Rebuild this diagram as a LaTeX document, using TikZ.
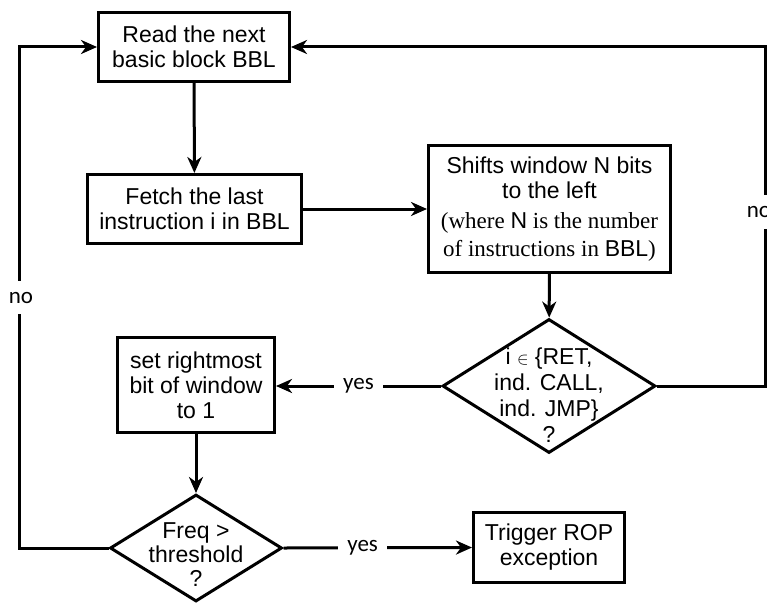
\documentclass[tikz,border=0pt]{standalone}
\usepackage{fontspec}
\setmainfont{Liberation Sans}
\newfontfamily\timesfont{Liberation Serif}
\newfontfamily\labelfont{Carlito}
\usetikzlibrary{arrows.meta,shapes.geometric}

\begin{document}
\begin{tikzpicture}[x=1pt,y=-1pt,
  every node/.style={font=\fontsize{23}{25}\selectfont},
  box/.style={draw, line width=3pt, align=center, inner sep=0pt},
  decision/.style={draw, diamond, line width=3pt, inner sep=0pt},
  flow/.style={line width=3pt, -{Stealth[length=16pt,width=14pt,inset=5pt]}},
  answer/.style={font=\labelfont\fontsize{23}{25}\selectfont, fill=white,
                 inner xsep=9pt, inner ysep=11pt}
]
\useasboundingbox (0,0) rectangle (767,602);

% process boxes
\node[box, minimum width=191, minimum height=69] (read) at (194,47)
  {Read the next\\basic block BBL};
\node[box, minimum width=214, minimum height=69] (fetch) at (194.5,209)
  {Fetch the last\\instruction i in BBL};
\node[box, minimum width=242, minimum height=127] (shift) at (549.5,209)
  {Shifts window N bits\\to the left\\[5pt]
   {\timesfont (where {\rmfamily N} is the number}\\[3pt]
   {\timesfont of instructions in {\rmfamily BBL})}};
\node[box, minimum width=157, minimum height=95] (setbit) at (196,385)
  {set rightmost\\bit of window\\to 1};
\node[box, minimum width=151, minimum height=70] (trigger) at (549,547.5)
  {Trigger ROP\\exception};

% decisions
\node[decision, minimum width=213, minimum height=134] (isret) at (549,386) {};
\node[align=center, font=\fontsize{23}{26}\selectfont] (isrettext) at (549,395)
  {i {\fontsize{17}{17}\selectfont$\in$} \{RET,\\ind. CALL,\\ind. JMP\}\\?};
\node[decision, minimum width=172, minimum height=107] (freq) at (196,548) {};
\node[align=center, font=\fontsize{23}{24}\selectfont] (freqtext) at (196,555)
  {Freq >\\threshold\\?};

% loop corners
\coordinate (lc1) at (19,548);
\coordinate (lc2) at (19,47);
\coordinate (rc1) at (765,386);
\coordinate (rc2) at (765,47);

% connectors
\draw[flow] (read) -- (fetch);
\draw[flow] (fetch) -- (shift);
\draw[flow] (shift) -- (isret);
\draw[flow] (isret.west) -- node[answer, pos=0.5]{yes} (isret.west -| setbit.east);
\draw[flow] (setbit) -- (freq);
\draw[flow] (freq.east) -- node[answer, pos=0.42]{yes} (trigger.west);
\draw[flow] (freq.west) -- (lc1) -- node[answer, xshift=2pt]{no} (lc2) -- (read.west);
\draw[flow] (isret.east) -- (rc1) -- node[answer, xshift=-6pt, yshift=4.5pt]{no} (rc2) -- (read.east);
\end{tikzpicture}
\end{document}
